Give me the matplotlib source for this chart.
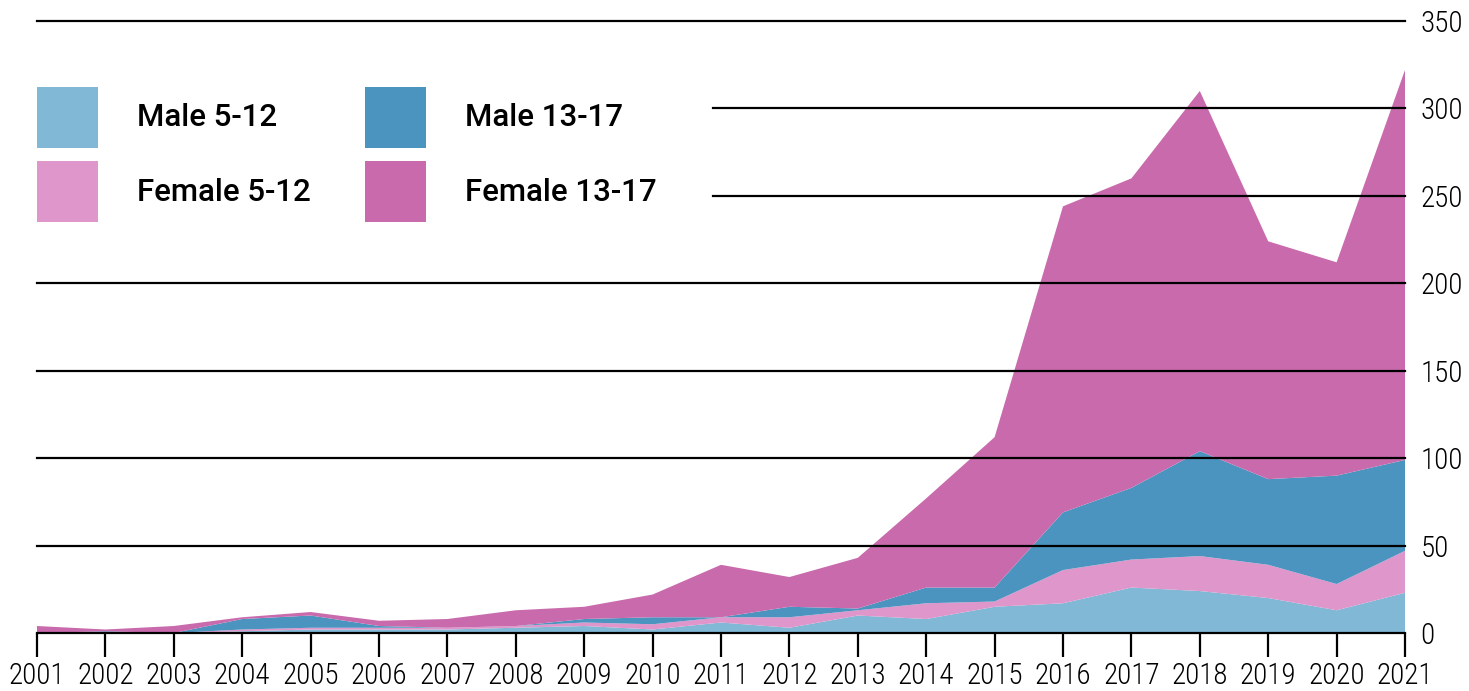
import matplotlib.pyplot as plt
from matplotlib.patches import Rectangle

years = list(range(2001, 2022))

male_5_12 = [0, 0, 0, 1, 2, 2, 2, 3, 4, 2, 6, 3, 10, 8, 15, 17, 26, 24, 20, 13, 23]
female_5_12 = [0, 0, 0, 1, 1, 1, 1, 1, 2, 3, 3, 6, 3, 9, 3, 19, 16, 20, 19, 15, 24]
male_13_17 = [0, 1, 0, 6, 7, 1, 0, 0, 2, 4, 0, 6, 1, 9, 8, 33, 41, 60, 49, 62, 52]
female_13_17 = [4, 1, 4, 1, 2, 3, 5, 9, 7, 13, 30, 17, 29, 51, 86, 175, 177, 206, 136, 122, 223]

labels = ["Male 5-12", "Female 5-12", "Male 13-17", "Female 13-17"]
colors = ["#80B8D6", "#DF96CB", "#4C94C0", "#C96AAD"]

y_ticks = [0, 50, 100, 150, 200, 250, 300, 350]

tick_font = ["Roboto Condensed", "Barlow Condensed", "DejaVu Sans"]
legend_font = ["Roboto", "DejaVu Sans"]

fig = plt.figure(figsize=(14.69, 6.91), dpi=100)
ax = fig.add_axes([37 / 1469, 58 / 691, 1368 / 1469, 612 / 691])

ax.stackplot(years, male_5_12, female_5_12, male_13_17, female_13_17,
             colors=colors, linewidth=0, zorder=1)

# gridlines on top; 250 and 300 are cut short to leave room for the legend
for v in y_ticks:
    xmin = 0.494 if v in (250, 300) else 0
    ax.axhline(v, xmin=xmin, xmax=1, color="black", lw=1.6, zorder=3, clip_on=False)

ax.set_xlim(2001, 2021)
ax.set_ylim(0, 350)
ax.set_xticks(years)
ax.set_xticklabels([str(y) for y in years], family=tick_font, fontsize=21, fontweight="light")
ax.set_yticks(y_ticks)
ax.set_yticklabels([str(v) for v in y_ticks], family=tick_font, fontsize=21, fontweight="light")
ax.yaxis.tick_right()
ax.tick_params(axis="x", length=17, width=1.6, pad=4, color="black")
ax.tick_params(axis="y", length=0, pad=11)
for s in ax.spines.values():
    s.set_visible(False)

# legend, two columns of colour squares
legend_order = [(0, 0, 0), (2, 1, 0), (1, 0, 1), (3, 1, 1)]
for idx, col, row in legend_order:
    x0 = (37 + col * 328) / 1469
    y0 = 1 - (148 + row * 74) / 691
    fig.patches.append(Rectangle((x0, y0), 61 / 1469, 61 / 691, transform=fig.transFigure,
                                 facecolor=colors[idx], edgecolor="none"))
    fig.text(x0 + 100 / 1469, y0 + 30 / 691, labels[idx], family=legend_font,
             fontsize=22.5, fontweight="medium", va="center", ha="left")

fig.savefig("out.png", dpi=100)
